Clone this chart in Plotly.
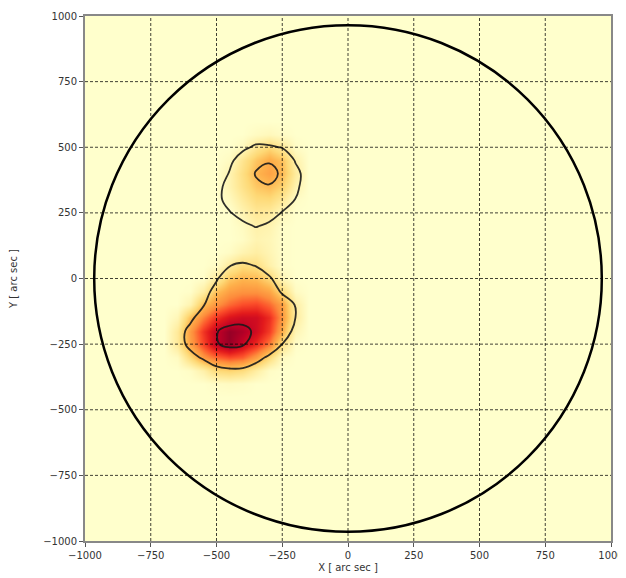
import plotly.graph_objects as go

# ---------------- data ----------------
tick_vals = [-1000, -750, -500, -250, 0, 250, 500, 750, 1000]
sun_radius = 965  # arcsec, solar limb

grid_x = [-700, -650, -600, -550, -500, -450, -400, -350, -300, -250, -200, -150]
grid_y_top_down = [600, 550, 500, 450, 400, 350, 300, 250, 200, 150, 100, 50, 0,
                   -50, -100, -150, -200, -250, -300, -350, -400, -450]

# image intensity (normalised), rows listed from y=600 down to y=-450
image_rows = [
    [0, 0, 0, 0, 0, 0, 0, 0, 0, 0, 0, 0],
    [0, 0, 0, 0, 0, 0, 0, 0.03, 0.05, 0.02, 0, 0],
    [0, 0, 0, 0, 0, 0, 0.04, 0.18, 0.26, 0.16, 0.02, 0],
    [0, 0, 0, 0, 0, 0.03, 0.18, 0.33, 0.42, 0.34, 0.10, 0],
    [0, 0, 0, 0, 0, 0.08, 0.22, 0.38, 0.45, 0.36, 0.14, 0],
    [0, 0, 0, 0, 0, 0.08, 0.20, 0.32, 0.36, 0.28, 0.09, 0],
    [0, 0, 0, 0, 0, 0.04, 0.14, 0.24, 0.25, 0.16, 0.02, 0],
    [0, 0, 0, 0, 0, 0, 0.08, 0.16, 0.14, 0.05, 0, 0],
    [0, 0, 0, 0, 0, 0, 0.03, 0.10, 0.08, 0.01, 0, 0],
    [0, 0, 0, 0, 0, 0, 0.02, 0.08, 0.06, 0.01, 0, 0],
    [0, 0, 0, 0, 0, 0.02, 0.08, 0.12, 0.07, 0.01, 0, 0],
    [0, 0, 0, 0, 0.02, 0.14, 0.24, 0.22, 0.10, 0.01, 0, 0],
    [0, 0, 0, 0.01, 0.14, 0.32, 0.38, 0.36, 0.26, 0.06, 0, 0],
    [0, 0, 0.01, 0.12, 0.35, 0.46, 0.50, 0.50, 0.44, 0.24, 0.03, 0],
    [0, 0, 0.08, 0.35, 0.50, 0.60, 0.66, 0.68, 0.60, 0.45, 0.12, 0],
    [0, 0.06, 0.35, 0.55, 0.72, 0.82, 0.86, 0.85, 0.74, 0.48, 0.14, 0],
    [0, 0.15, 0.48, 0.72, 0.90, 1.00, 0.95, 0.85, 0.70, 0.40, 0.07, 0],
    [0, 0.15, 0.46, 0.68, 0.90, 1.00, 0.88, 0.74, 0.56, 0.20, 0.01, 0],
    [0, 0.03, 0.25, 0.48, 0.60, 0.66, 0.62, 0.46, 0.24, 0.03, 0, 0],
    [0, 0, 0.02, 0.10, 0.25, 0.28, 0.24, 0.12, 0.02, 0, 0, 0],
    [0, 0, 0, 0, 0.02, 0.03, 0.02, 0, 0, 0, 0, 0],
    [0, 0, 0, 0, 0, 0, 0, 0, 0, 0, 0, 0],
]

# contour map (second image), rows listed from y=600 down to y=-450
contour_rows = [
    [0, 0, 0, 0, 0, 0, 0, 0, 0, 0, 0, 0],
    [0, 0, 0, 0, 0, 0, 0, 0.03, 0.03, 0, 0, 0],
    [0, 0, 0, 0, 0, 0, 0.105, 0.183, 0.174, 0.14, 0.045, 0],
    [0, 0, 0, 0, 0, 0.105, 0.255, 0.42, 0.47, 0.33, 0.135, 0],
    [0, 0, 0, 0, 0.015, 0.165, 0.30, 0.52, 0.60, 0.45, 0.21, 0.06],
    [0, 0, 0, 0, 0.08, 0.23, 0.33, 0.45, 0.48, 0.40, 0.195, 0.045],
    [0, 0, 0, 0, 0.085, 0.235, 0.30, 0.33, 0.33, 0.28, 0.145, 0],
    [0, 0, 0, 0, 0, 0.135, 0.24, 0.30, 0.255, 0.135, 0, 0],
    [0, 0, 0, 0, 0, 0, 0.093, 0.165, 0.105, 0, 0, 0],
    [0, 0, 0, 0, 0, 0, 0, 0, 0, 0, 0, 0],
    [0, 0, 0, 0, 0, 0, 0.03, 0, 0, 0, 0, 0],
    [0, 0, 0, 0, 0.015, 0.144, 0.18, 0.141, 0.045, 0, 0, 0],
    [0, 0, 0, 0, 0.129, 0.28, 0.33, 0.255, 0.18, 0.03, 0, 0],
    [0, 0, 0, 0.072, 0.222, 0.30, 0.33, 0.33, 0.30, 0.12, 0.03, 0],
    [0, 0, 0, 0.135, 0.285, 0.35, 0.36, 0.36, 0.33, 0.285, 0.14, 0],
    [0, 0, 0.105, 0.255, 0.33, 0.41, 0.42, 0.41, 0.35, 0.30, 0.15, 0],
    [0, 0.057, 0.207, 0.36, 0.49, 0.56, 0.57, 0.458, 0.36, 0.255, 0.105, 0],
    [0, 0.054, 0.204, 0.38, 0.485, 0.554, 0.524, 0.38, 0.30, 0.15, 0, 0],
    [0, 0, 0.087, 0.18, 0.255, 0.33, 0.32, 0.216, 0.12, 0, 0, 0],
    [0, 0, 0, 0, 0.105, 0.12, 0.114, 0.066, 0, 0, 0, 0],
    [0, 0, 0, 0, 0, 0, 0, 0, 0, 0, 0, 0],
    [0, 0, 0, 0, 0, 0, 0, 0, 0, 0, 0, 0],
]
contour_levels = [0.15, 0.5]

# ---------------- figure ----------------
grid_y = grid_y_top_down[::-1]
image_z = image_rows[::-1]
contour_z = contour_rows[::-1]

ylorrd = [
    [0.0, "#ffffcc"], [0.125, "#ffeda0"], [0.25, "#fed976"], [0.375, "#feb24c"],
    [0.5, "#fd8d3c"], [0.625, "#fc4e2a"], [0.75, "#e31a1c"], [0.875, "#bd0026"],
    [1.0, "#800026"],
]

fig = go.Figure()
fig.add_trace(go.Heatmap(
    x=grid_x, y=grid_y, z=image_z, colorscale=ylorrd, zmin=0, zmax=1.05,
    zsmooth="best", showscale=False, hoverinfo="skip",
))
fig.add_trace(go.Contour(
    x=grid_x, y=grid_y, z=contour_z,
    contours=dict(coloring="none", start=contour_levels[0], end=contour_levels[-1],
                  size=contour_levels[-1] - contour_levels[0]),
    line=dict(color="rgba(25,25,25,0.9)", width=1.8, smoothing=1.2),
    showscale=False, hoverinfo="skip",
))

shapes = []
grid_line = dict(color="rgba(0,0,0,0.75)", width=1, dash="3px,2px")
for t in tick_vals[1:-1]:
    shapes.append(dict(type="line", xref="x", yref="y", x0=t, x1=t, y0=-1000, y1=1000,
                       line=grid_line, layer="above"))
    shapes.append(dict(type="line", xref="x", yref="y", x0=-1000, x1=1000, y0=t, y1=t,
                       line=grid_line, layer="above"))
shapes.append(dict(type="circle", xref="x", yref="y", x0=-sun_radius, x1=sun_radius,
                   y0=-sun_radius, y1=sun_radius, line=dict(color="black", width=2.5),
                   layer="above"))

axis_common = dict(
    range=[-1000, 1000], tickvals=tick_vals, showgrid=False, zeroline=False,
    ticks="outside", ticklen=4, tickcolor="#555", showline=True, mirror=True,
    linecolor="#888888", linewidth=2, automargin=False,
    tickfont=dict(family="DejaVu Sans", size=10, color="#333"),
)
fig.update_layout(
    width=618, height=570,
    margin=dict(l=77, r=15, t=8, b=37),
    paper_bgcolor="white", plot_bgcolor="#ffffcc",
    shapes=shapes, showlegend=False,
    xaxis=dict(**axis_common, title=dict(text="X [ arc sec ]", standoff=4,
                                         font=dict(family="DejaVu Sans", size=10, color="#333"))),
    yaxis=dict(**axis_common, title=dict(text="Y [ arc sec ]", standoff=28,
                                         font=dict(family="DejaVu Sans", size=10, color="#333"))),
)
fig.write_html("out.html")
